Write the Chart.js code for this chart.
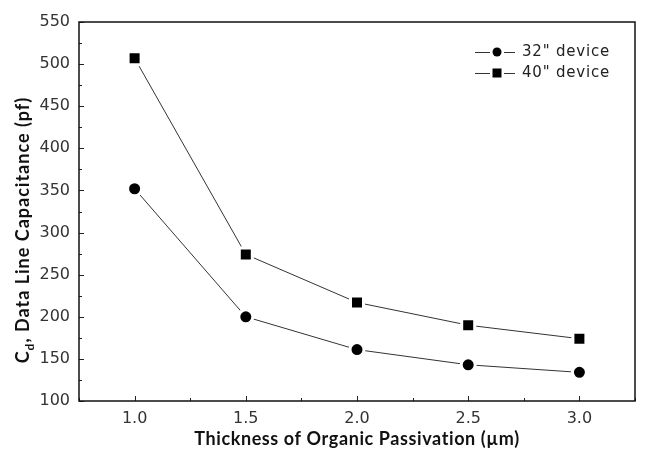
<!DOCTYPE html>
<html>
<head>
<meta charset="utf-8">
<script src="https://cdn.jsdelivr.net/npm/chart.js@4"></script>
<style>
  html, body { margin: 0; padding: 0; background: #fff; }
  #wrap { width: 650px; height: 456px; }
</style>
</head>
<body>
<div id="wrap"><canvas id="capChart"></canvas></div>
<script>
// thickness of organic passivation (um)
const thickness = [1.0, 1.5, 2.0, 2.5, 3.0];
// data line capacitance (pf)
const device32 = [352, 200, 161, 143, 134];
const device40 = [507, 274, 217, 190, 174];
const seriesLabels = ['32" device', '40" device'];

const xTitle = 'Thickness of Organic Passivation (\u00b5m)';
const tickFont = { family: 'DejaVu Sans', size: 16 };

const toPoints = (ys) => thickness.map((x, i) => ({ x: x, y: ys[i] }));

// inward tick marks, frame, legend and axis titles
const decorPlugin = {
    id: 'decor',
    afterDraw(chart) {
        const { ctx, chartArea: a, scales } = chart;
        ctx.save();

        // ticks (major every 0.5 / 50, minor between)
        ctx.strokeStyle = '#222';
        ctx.lineWidth = 1;
        scales.x.ticks.forEach(t => {
            const px = Math.round(scales.x.getPixelForValue(t.value)) + 0.5;
            const major = Math.abs(t.value * 2 - Math.round(t.value * 2)) < 1e-6;
            ctx.beginPath();
            ctx.moveTo(px, a.bottom);
            ctx.lineTo(px, a.bottom - (major ? 5 : 3));
            ctx.stroke();
        });
        scales.y.ticks.forEach(t => {
            const py = Math.round(scales.y.getPixelForValue(t.value)) + 0.5;
            const major = t.value % 50 === 0;
            ctx.beginPath();
            ctx.moveTo(a.left, py);
            ctx.lineTo(a.left + (major ? 5 : 3), py);
            ctx.stroke();
        });

        // frame
        ctx.strokeStyle = '#111';
        ctx.lineWidth = 1.5;
        ctx.strokeRect(a.left, a.top, a.right - a.left, a.bottom - a.top);

        // legend
        const rows = [{ y: 52, style: 'circle', ds: 0 }, { y: 73, style: 'rect', ds: 1 }];
        rows.forEach(r => {
            ctx.strokeStyle = '#333';
            ctx.lineWidth = 1;
            ctx.beginPath();
            ctx.moveTo(475, r.y + 0.5); ctx.lineTo(490, r.y + 0.5);
            ctx.moveTo(504, r.y + 0.5); ctx.lineTo(515, r.y + 0.5);
            ctx.stroke();
            ctx.fillStyle = '#000';
            if (r.style === 'circle') {
                ctx.beginPath();
                ctx.arc(497, r.y, 4.5, 0, Math.PI * 2);
                ctx.fill();
            } else {
                ctx.fillRect(492.5, r.y - 4.5, 9, 9);
            }
            ctx.fillStyle = '#222';
            ctx.font = '15px "DejaVu Sans"';
            ctx.letterSpacing = '0.8px';
            ctx.textBaseline = 'middle';
            ctx.textAlign = 'left';
            ctx.fillText(chart.data.datasets[r.ds].label, 522, r.y);
        });

        // x title
        ctx.fillStyle = '#111';
        ctx.font = 'bold 18px Lato';
        ctx.letterSpacing = '0.6px';
        ctx.textAlign = 'center';
        ctx.textBaseline = 'middle';
        ctx.fillText(xTitle, (a.left + a.right) / 2, 439);

        // y title with subscript
        const big = 'bold 18px Lato';
        const small = 'bold 12px Lato';
        const partC = 'C', partD = 'd', rest = ', Data Line Capacitance (pf)';
        ctx.letterSpacing = '1px';
        ctx.font = big;
        const wC = ctx.measureText(partC).width;
        const wR = ctx.measureText(rest).width;
        ctx.font = small;
        const wD = ctx.measureText(partD).width;
        const total = wC + wD + wR;
        ctx.translate(29, 230 + total / 2);
        ctx.rotate(-Math.PI / 2);
        ctx.textBaseline = 'alphabetic';
        ctx.textAlign = 'left';
        ctx.font = big;
        ctx.fillText(partC, 0, 0);
        ctx.font = small;
        ctx.fillText(partD, wC, 5);
        ctx.font = big;
        ctx.fillText(rest, wC + wD, 0);

        ctx.restore();
    }
};

const ctxCap = document.getElementById('capChart').getContext('2d');
new Chart(ctxCap, {
    type: 'line',
    data: {
        datasets: [{
            label: seriesLabels[0],
            data: toPoints(device32),
            borderColor: '#333',
            borderWidth: 1,
            pointStyle: 'circle',
            pointRadius: 7,
            pointBackgroundColor: '#000',
            pointBorderColor: '#fff',
            pointBorderWidth: 3,
            tension: 0
        }, {
            label: seriesLabels[1],
            data: toPoints(device40),
            borderColor: '#333',
            borderWidth: 1,
            pointStyle: 'rect',
            pointRadius: 9.2,
            pointBackgroundColor: '#000',
            pointBorderColor: '#fff',
            pointBorderWidth: 3,
            tension: 0
        }]
    },
    options: {
        responsive: true,
        maintainAspectRatio: false,
        animation: false,
        layout: { padding: { top: 22, right: 15, left: 0, bottom: 0 } },
        plugins: {
            legend: { display: false },
            tooltip: { enabled: false }
        },
        scales: {
            x: {
                type: 'linear',
                min: 0.75,
                max: 3.25,
                grid: { display: false, drawTicks: false },
                border: { display: false },
                ticks: {
                    stepSize: 0.25,
                    autoSkip: false,
                    maxRotation: 0,
                    padding: 8,
                    color: '#333',
                    font: tickFont,
                    callback: (v) => {
                        const isHalf = Math.abs(v * 2 - Math.round(v * 2)) < 1e-6;
                        return (isHalf && v > 0.9 && v < 3.1) ? v.toFixed(1) : '';
                    }
                },
                title: { display: false, text: xTitle },
                afterFit: (scale) => { scale.height = 55; }
            },
            y: {
                min: 100,
                max: 550,
                grid: { display: false, drawTicks: false },
                border: { display: false },
                ticks: {
                    stepSize: 25,
                    autoSkip: false,
                    padding: 9,
                    color: '#333',
                    font: tickFont,
                    callback: (v) => (v % 50 === 0 ? v : '')
                },
                afterFit: (scale) => { scale.width = 79; }
            }
        }
    },
    plugins: [decorPlugin]
});
</script>
</body>
</html>
